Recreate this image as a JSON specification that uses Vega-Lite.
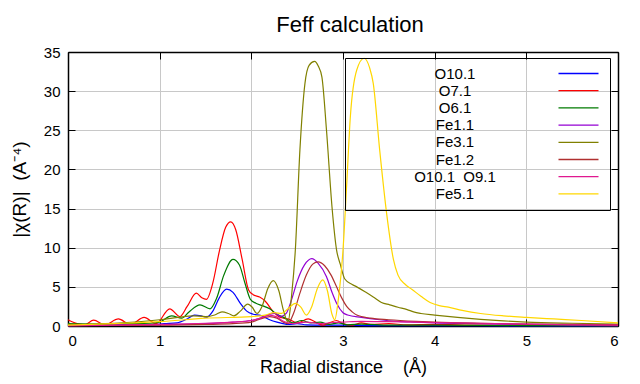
{
  "$schema": "https://vega.github.io/schema/vega-lite/v6.json",
  "width": 550,
  "height": 274,
  "autosize": "none",
  "padding": {"left": 68, "top": 52, "right": 22, "bottom": 58},
  "background": "white",
  "config": {
    "font": "Liberation Sans",
    "view": {"stroke": null},
    "axis": {"labelFontSize": 15, "labelColor": "black", "titleColor": "black", "titleFontWeight": "normal", "domainColor": "black", "domainWidth": 1.5, "tickColor": "black", "tickWidth": 1, "tickSize": -7, "gridColor": "#c8c8c8", "gridWidth": 1, "gridOpacity": 1, "labelFont": "Liberation Sans", "titleFont": "Liberation Sans"},
    "title": {"font": "Liberation Sans", "fontSize": 22, "fontWeight": "normal", "color": "black"}
  },
  "title": {"text": "Feff calculation", "anchor": "middle", "frame": "group", "dx": 7, "offset": -9, "baseline": "alphabetic"},
  "data": {"values": [
    {"s":"O10.1","x":0,"y":0.2},{"s":"O10.1","x":0.15,"y":0.1},{"s":"O10.1","x":0.3,"y":0.2},{"s":"O10.1","x":0.5,"y":0.15},{"s":"O10.1","x":0.7,"y":0.2},{"s":"O10.1","x":0.9,"y":0.15},{"s":"O10.1","x":1.05,"y":0.3},{"s":"O10.1","x":1.19,"y":0.4},{"s":"O10.1","x":1.3,"y":0.9},{"s":"O10.1","x":1.38,"y":1.4},{"s":"O10.1","x":1.45,"y":1.3},{"s":"O10.1","x":1.51,"y":1.1},{"s":"O10.1","x":1.58,"y":1.9},{"s":"O10.1","x":1.65,"y":3.6},{"s":"O10.1","x":1.73,"y":4.7},{"s":"O10.1","x":1.8,"y":4.3},{"s":"O10.1","x":1.88,"y":2.9},{"s":"O10.1","x":1.95,"y":1.9},{"s":"O10.1","x":2.02,"y":1.5},{"s":"O10.1","x":2.1,"y":1.35},{"s":"O10.1","x":2.2,"y":0.8},{"s":"O10.1","x":2.28,"y":0.5},{"s":"O10.1","x":2.4,"y":0.2},{"s":"O10.1","x":2.5,"y":0.3},{"s":"O10.1","x":2.6,"y":0.15},{"s":"O10.1","x":2.8,"y":0.1},{"s":"O10.1","x":3.0,"y":0.12},{"s":"O10.1","x":3.3,"y":0.06},{"s":"O10.1","x":4.0,"y":0.04},{"s":"O10.1","x":5.0,"y":0.02},{"s":"O10.1","x":6.0,"y":0.01},
    {"s":"O7.1","x":0,"y":0.8},{"s":"O7.1","x":0.1,"y":0.3},{"s":"O7.1","x":0.18,"y":0.15},{"s":"O7.1","x":0.28,"y":0.75},{"s":"O7.1","x":0.4,"y":0.15},{"s":"O7.1","x":0.55,"y":0.9},{"s":"O7.1","x":0.68,"y":0.2},{"s":"O7.1","x":0.83,"y":1.1},{"s":"O7.1","x":0.96,"y":0.3},{"s":"O7.1","x":1.11,"y":2.2},{"s":"O7.1","x":1.22,"y":1.2},{"s":"O7.1","x":1.3,"y":2.5},{"s":"O7.1","x":1.4,"y":4.2},{"s":"O7.1","x":1.46,"y":3.6},{"s":"O7.1","x":1.51,"y":3.4},{"s":"O7.1","x":1.58,"y":5.5},{"s":"O7.1","x":1.65,"y":9.5},{"s":"O7.1","x":1.72,"y":12.6},{"s":"O7.1","x":1.775,"y":13.3},{"s":"O7.1","x":1.83,"y":12.3},{"s":"O7.1","x":1.9,"y":8.5},{"s":"O7.1","x":1.97,"y":4.6},{"s":"O7.1","x":2.02,"y":4.0},{"s":"O7.1","x":2.09,"y":3.7},{"s":"O7.1","x":2.15,"y":3.2},{"s":"O7.1","x":2.24,"y":1.8},{"s":"O7.1","x":2.3,"y":1.2},{"s":"O7.1","x":2.35,"y":1.0},{"s":"O7.1","x":2.4,"y":0.9},{"s":"O7.1","x":2.5,"y":0.4},{"s":"O7.1","x":2.62,"y":0.9},{"s":"O7.1","x":2.7,"y":0.5},{"s":"O7.1","x":2.78,"y":0.1},{"s":"O7.1","x":2.85,"y":0.4},{"s":"O7.1","x":2.93,"y":0.7},{"s":"O7.1","x":3.0,"y":0.3},{"s":"O7.1","x":3.1,"y":0.1},{"s":"O7.1","x":3.2,"y":0.4},{"s":"O7.1","x":3.3,"y":0.2},{"s":"O7.1","x":3.5,"y":0.3},{"s":"O7.1","x":3.7,"y":0.15},{"s":"O7.1","x":4.0,"y":0.2},{"s":"O7.1","x":4.5,"y":0.1},{"s":"O7.1","x":5.0,"y":0.1},{"s":"O7.1","x":6.0,"y":0.05},
    {"s":"O6.1","x":0,"y":0.3},{"s":"O6.1","x":0.3,"y":0.25},{"s":"O6.1","x":0.6,"y":0.3},{"s":"O6.1","x":0.9,"y":0.35},{"s":"O6.1","x":1.0,"y":0.5},{"s":"O6.1","x":1.13,"y":1.3},{"s":"O6.1","x":1.24,"y":1.0},{"s":"O6.1","x":1.32,"y":1.8},{"s":"O6.1","x":1.44,"y":2.7},{"s":"O6.1","x":1.55,"y":2.2},{"s":"O6.1","x":1.62,"y":3.5},{"s":"O6.1","x":1.7,"y":6.5},{"s":"O6.1","x":1.8,"y":8.5},{"s":"O6.1","x":1.87,"y":7.8},{"s":"O6.1","x":1.93,"y":5.5},{"s":"O6.1","x":1.99,"y":3.4},{"s":"O6.1","x":2.05,"y":2.9},{"s":"O6.1","x":2.12,"y":2.6},{"s":"O6.1","x":2.2,"y":2.2},{"s":"O6.1","x":2.28,"y":1.5},{"s":"O6.1","x":2.37,"y":1.0},{"s":"O6.1","x":2.45,"y":0.4},{"s":"O6.1","x":2.55,"y":0.7},{"s":"O6.1","x":2.65,"y":0.4},{"s":"O6.1","x":2.75,"y":0.5},{"s":"O6.1","x":2.85,"y":0.2},{"s":"O6.1","x":2.95,"y":0.4},{"s":"O6.1","x":3.05,"y":0.15},{"s":"O6.1","x":3.2,"y":0.25},{"s":"O6.1","x":3.5,"y":0.1},{"s":"O6.1","x":4.0,"y":0.1},{"s":"O6.1","x":5.0,"y":0.05},{"s":"O6.1","x":6.0,"y":0.03},
    {"s":"Fe1.1","x":0,"y":0.05},{"s":"Fe1.1","x":0.5,"y":0.1},{"s":"Fe1.1","x":1.0,"y":0.15},{"s":"Fe1.1","x":1.5,"y":0.3},{"s":"Fe1.1","x":1.8,"y":0.5},{"s":"Fe1.1","x":2.0,"y":0.7},{"s":"Fe1.1","x":2.1,"y":1.0},{"s":"Fe1.1","x":2.2,"y":1.5},{"s":"Fe1.1","x":2.26,"y":1.6},{"s":"Fe1.1","x":2.32,"y":1.2},{"s":"Fe1.1","x":2.38,"y":1.6},{"s":"Fe1.1","x":2.44,"y":3.4},{"s":"Fe1.1","x":2.5,"y":5.7},{"s":"Fe1.1","x":2.58,"y":7.8},{"s":"Fe1.1","x":2.66,"y":8.6},{"s":"Fe1.1","x":2.73,"y":8.0},{"s":"Fe1.1","x":2.82,"y":6.3},{"s":"Fe1.1","x":2.88,"y":4.3},{"s":"Fe1.1","x":2.93,"y":2.9},{"s":"Fe1.1","x":3.0,"y":1.7},{"s":"Fe1.1","x":3.05,"y":1.4},{"s":"Fe1.1","x":3.2,"y":1.1},{"s":"Fe1.1","x":3.4,"y":0.8},{"s":"Fe1.1","x":3.6,"y":0.6},{"s":"Fe1.1","x":3.8,"y":0.5},{"s":"Fe1.1","x":4.0,"y":0.4},{"s":"Fe1.1","x":4.5,"y":0.3},{"s":"Fe1.1","x":5.0,"y":0.2},{"s":"Fe1.1","x":5.5,"y":0.15},{"s":"Fe1.1","x":6.0,"y":0.1},
    {"s":"Fe3.1","x":0,"y":0.2},{"s":"Fe3.1","x":0.5,"y":0.35},{"s":"Fe3.1","x":1.0,"y":0.8},{"s":"Fe3.1","x":1.2,"y":1.1},{"s":"Fe3.1","x":1.37,"y":1.3},{"s":"Fe3.1","x":1.5,"y":1.2},{"s":"Fe3.1","x":1.6,"y":1.4},{"s":"Fe3.1","x":1.68,"y":1.8},{"s":"Fe3.1","x":1.75,"y":1.6},{"s":"Fe3.1","x":1.81,"y":1.3},{"s":"Fe3.1","x":1.88,"y":1.9},{"s":"Fe3.1","x":1.96,"y":2.8},{"s":"Fe3.1","x":2.01,"y":2.4},{"s":"Fe3.1","x":2.06,"y":1.6},{"s":"Fe3.1","x":2.12,"y":2.6},{"s":"Fe3.1","x":2.18,"y":4.8},{"s":"Fe3.1","x":2.24,"y":5.8},{"s":"Fe3.1","x":2.3,"y":4.5},{"s":"Fe3.1","x":2.35,"y":2.0},{"s":"Fe3.1","x":2.4,"y":0.5},{"s":"Fe3.1","x":2.44,"y":4.0},{"s":"Fe3.1","x":2.48,"y":9.7},{"s":"Fe3.1","x":2.53,"y":22.5},{"s":"Fe3.1","x":2.585,"y":31},{"s":"Fe3.1","x":2.63,"y":33.3},{"s":"Fe3.1","x":2.69,"y":33.8},{"s":"Fe3.1","x":2.73,"y":33.2},{"s":"Fe3.1","x":2.77,"y":31.8},{"s":"Fe3.1","x":2.82,"y":25},{"s":"Fe3.1","x":2.88,"y":15.2},{"s":"Fe3.1","x":2.93,"y":9.7},{"s":"Fe3.1","x":2.97,"y":7.9},{"s":"Fe3.1","x":3.02,"y":6.0},{"s":"Fe3.1","x":3.1,"y":5.3},{"s":"Fe3.1","x":3.15,"y":5.0},{"s":"Fe3.1","x":3.25,"y":4.3},{"s":"Fe3.1","x":3.33,"y":3.7},{"s":"Fe3.1","x":3.42,"y":3.0},{"s":"Fe3.1","x":3.51,"y":2.7},{"s":"Fe3.1","x":3.6,"y":2.4},{"s":"Fe3.1","x":3.7,"y":2.1},{"s":"Fe3.1","x":3.77,"y":1.8},{"s":"Fe3.1","x":3.85,"y":1.6},{"s":"Fe3.1","x":4.0,"y":1.4},{"s":"Fe3.1","x":4.25,"y":1.1},{"s":"Fe3.1","x":4.5,"y":0.85},{"s":"Fe3.1","x":4.75,"y":0.65},{"s":"Fe3.1","x":5.0,"y":0.5},{"s":"Fe3.1","x":5.5,"y":0.35},{"s":"Fe3.1","x":6.0,"y":0.25},
    {"s":"Fe1.2","x":0,"y":0.05},{"s":"Fe1.2","x":0.5,"y":0.08},{"s":"Fe1.2","x":1.0,"y":0.1},{"s":"Fe1.2","x":1.5,"y":0.2},{"s":"Fe1.2","x":1.8,"y":0.3},{"s":"Fe1.2","x":2.0,"y":0.5},{"s":"Fe1.2","x":2.1,"y":0.9},{"s":"Fe1.2","x":2.2,"y":1.2},{"s":"Fe1.2","x":2.28,"y":1.0},{"s":"Fe1.2","x":2.35,"y":0.5},{"s":"Fe1.2","x":2.4,"y":0.3},{"s":"Fe1.2","x":2.46,"y":1.6},{"s":"Fe1.2","x":2.53,"y":4.2},{"s":"Fe1.2","x":2.6,"y":6.5},{"s":"Fe1.2","x":2.67,"y":7.9},{"s":"Fe1.2","x":2.73,"y":8.2},{"s":"Fe1.2","x":2.8,"y":7.7},{"s":"Fe1.2","x":2.87,"y":6.5},{"s":"Fe1.2","x":2.93,"y":5.0},{"s":"Fe1.2","x":2.99,"y":3.5},{"s":"Fe1.2","x":3.04,"y":2.5},{"s":"Fe1.2","x":3.1,"y":1.8},{"s":"Fe1.2","x":3.15,"y":1.4},{"s":"Fe1.2","x":3.3,"y":1.0},{"s":"Fe1.2","x":3.5,"y":0.8},{"s":"Fe1.2","x":3.8,"y":0.6},{"s":"Fe1.2","x":4.0,"y":0.5},{"s":"Fe1.2","x":4.5,"y":0.35},{"s":"Fe1.2","x":5.0,"y":0.25},{"s":"Fe1.2","x":5.5,"y":0.2},{"s":"Fe1.2","x":6.0,"y":0.15},
    {"s":"O10.1\u00a0\u00a0O9.1","x":0,"y":0.05},{"s":"O10.1\u00a0\u00a0O9.1","x":0.5,"y":0.1},{"s":"O10.1\u00a0\u00a0O9.1","x":1.0,"y":0.2},{"s":"O10.1\u00a0\u00a0O9.1","x":1.5,"y":0.35},{"s":"O10.1\u00a0\u00a0O9.1","x":1.8,"y":0.5},{"s":"O10.1\u00a0\u00a0O9.1","x":2.0,"y":0.7},{"s":"O10.1\u00a0\u00a0O9.1","x":2.1,"y":1.0},{"s":"O10.1\u00a0\u00a0O9.1","x":2.2,"y":1.4},{"s":"O10.1\u00a0\u00a0O9.1","x":2.27,"y":1.2},{"s":"O10.1\u00a0\u00a0O9.1","x":2.35,"y":0.6},{"s":"O10.1\u00a0\u00a0O9.1","x":2.45,"y":0.3},{"s":"O10.1\u00a0\u00a0O9.1","x":2.6,"y":0.5},{"s":"O10.1\u00a0\u00a0O9.1","x":2.75,"y":0.3},{"s":"O10.1\u00a0\u00a0O9.1","x":2.9,"y":0.45},{"s":"O10.1\u00a0\u00a0O9.1","x":3.0,"y":0.5},{"s":"O10.1\u00a0\u00a0O9.1","x":3.2,"y":0.6},{"s":"O10.1\u00a0\u00a0O9.1","x":3.5,"y":0.55},{"s":"O10.1\u00a0\u00a0O9.1","x":4.0,"y":0.45},{"s":"O10.1\u00a0\u00a0O9.1","x":4.5,"y":0.35},{"s":"O10.1\u00a0\u00a0O9.1","x":5.0,"y":0.25},{"s":"O10.1\u00a0\u00a0O9.1","x":5.5,"y":0.15},{"s":"O10.1\u00a0\u00a0O9.1","x":6.0,"y":0.1},
    {"s":"Fe5.1","x":0,"y":0.1},{"s":"Fe5.1","x":0.5,"y":0.3},{"s":"Fe5.1","x":1.0,"y":0.55},{"s":"Fe5.1","x":1.5,"y":1.0},{"s":"Fe5.1","x":2.0,"y":1.2},{"s":"Fe5.1","x":2.15,"y":1.4},{"s":"Fe5.1","x":2.25,"y":1.7},{"s":"Fe5.1","x":2.33,"y":1.6},{"s":"Fe5.1","x":2.4,"y":2.2},{"s":"Fe5.1","x":2.48,"y":2.9},{"s":"Fe5.1","x":2.54,"y":2.4},{"s":"Fe5.1","x":2.6,"y":1.4},{"s":"Fe5.1","x":2.66,"y":2.5},{"s":"Fe5.1","x":2.72,"y":4.8},{"s":"Fe5.1","x":2.78,"y":5.9},{"s":"Fe5.1","x":2.83,"y":4.5},{"s":"Fe5.1","x":2.88,"y":1.5},{"s":"Fe5.1","x":2.91,"y":0.8},{"s":"Fe5.1","x":2.95,"y":3.5},{"s":"Fe5.1","x":3.0,"y":9.7},{"s":"Fe5.1","x":3.04,"y":18},{"s":"Fe5.1","x":3.08,"y":26.7},{"s":"Fe5.1","x":3.15,"y":32.7},{"s":"Fe5.1","x":3.23,"y":34.2},{"s":"Fe5.1","x":3.29,"y":33.0},{"s":"Fe5.1","x":3.33,"y":31.0},{"s":"Fe5.1","x":3.4,"y":22.5},{"s":"Fe5.1","x":3.48,"y":14},{"s":"Fe5.1","x":3.55,"y":8.5},{"s":"Fe5.1","x":3.6,"y":6.5},{"s":"Fe5.1","x":3.68,"y":5.3},{"s":"Fe5.1","x":3.75,"y":4.7},{"s":"Fe5.1","x":3.85,"y":3.8},{"s":"Fe5.1","x":3.95,"y":3.0},{"s":"Fe5.1","x":4.05,"y":2.6},{"s":"Fe5.1","x":4.15,"y":2.4},{"s":"Fe5.1","x":4.3,"y":2.0},{"s":"Fe5.1","x":4.5,"y":1.6},{"s":"Fe5.1","x":4.75,"y":1.3},{"s":"Fe5.1","x":5.0,"y":1.1},{"s":"Fe5.1","x":5.3,"y":0.9},{"s":"Fe5.1","x":5.6,"y":0.7},{"s":"Fe5.1","x":6.0,"y":0.4}
  ]},
  "resolve": {"axis": {"x": "independent", "y": "independent"}},
  "layer": [
    {
      "mark": {"type": "line", "interpolate": "monotone", "strokeWidth": 1.2},
      "encoding": {
        "x": {"field": "x", "type": "quantitative", "scale": {"domain": [0, 6], "nice": false},
              "axis": {"orient": "bottom", "values": [0,1,2,3,4,5,6], "grid": true, "labelPadding": 14, "title": "Radial distance\u00a0\u00a0\u00a0\u00a0(Å)", "titleFontSize": 18, "titlePadding": 10}},
        "y": {"field": "y", "type": "quantitative", "scale": {"domain": [0, 35], "nice": false},
              "axis": {"orient": "left", "values": [0,5,10,15,20,25,30,35], "grid": true, "labelPadding": 15, "title": "|χ(R)|\u00a0\u00a0(A⁻⁴)", "titleFontSize": 19, "titlePadding": 14}},
        "color": {"field": "s", "type": "nominal",
          "scale": {"domain": ["O10.1","O7.1","O6.1","Fe1.1","Fe3.1","Fe1.2","O10.1\u00a0\u00a0O9.1","Fe5.1"],
                    "range": ["#0000ff","#ff0000","#007a00","#9400d3","#808000","#b03030","#e01890","#ffd700"]},
          "legend": {"orient": "none", "legendX": 277, "legendY": 6, "title": null,
                     "symbolType": "M-4,0H4", "symbolSize": 100, "symbolStrokeWidth": 1.3, "symbolOpacity": 1, "symbolOffset": 218,
                     "labelFontSize": 15, "labelColor": "black", "labelAlign": "center", "labelOffset": -131, "labelLimit": 300,
                     "rowPadding": 1.2, "padding": 8, "strokeColor": "black"}}
      }
    },
    {
      "mark": {"type": "point", "opacity": 0},
      "encoding": {
        "x": {"field": "x", "type": "quantitative", "axis": {"orient": "top", "values": [0,1,2,3,4,5,6], "labels": false, "title": null, "grid": false}},
        "y": {"field": "y", "type": "quantitative", "axis": {"orient": "right", "values": [0,5,10,15,20,25,30,35], "labels": false, "title": null, "grid": false}}
      }
    }
  ]
}
